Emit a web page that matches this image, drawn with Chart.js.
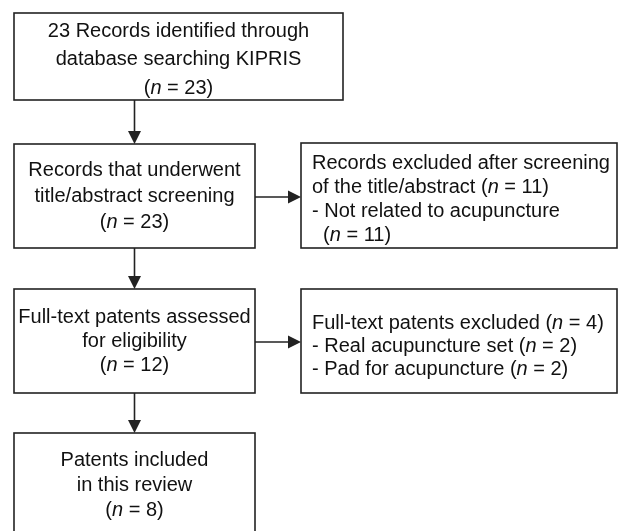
<!DOCTYPE html>
<html><head><meta charset="utf-8">
<script src="https://cdn.jsdelivr.net/npm/chart.js@4"></script>
<style>html,body{margin:0;padding:0;background:#fff}#wrap{width:619px;height:531px;position:relative}</style>
</head><body><div id="wrap"><canvas id="c"></canvas></div>
<script>
// ---- data ----
const stageCounts = [23, 23, 12, 8];          // main flow
const excludedCounts = [11, 4];               // exclusion boxes
const reasons1 = ["Not related to acupuncture"];
const reasonCounts1 = [11];
const reasons2 = ["Real acupuncture set", "Pad for acupuncture"];
const reasonCounts2 = [2, 2];
const stageLabels = [
  ["23 Records identified through", "database searching KIPRIS"],
  ["Records that underwent", "title/abstract screening"],
  ["Full-text patents assessed", "for eligibility"],
  ["Patents included", "in this review"]
];
const excludedLabels = [
  ["Records excluded after screening", "of the title/abstract"],
  ["Full-text patents excluded"]
];

const nTxt = v => "(*n* = " + v + ")";

// text content per box (built from data)
const boxTexts = [
  [stageLabels[0][0], stageLabels[0][1], nTxt(stageCounts[0])],
  [stageLabels[1][0], stageLabels[1][1], nTxt(stageCounts[1])],
  [excludedLabels[0][0], excludedLabels[0][1] + " " + nTxt(excludedCounts[0]), "- " + reasons1[0], "  " + nTxt(reasonCounts1[0])],
  [stageLabels[2][0], stageLabels[2][1], nTxt(stageCounts[2])],
  [excludedLabels[1][0] + " " + nTxt(excludedCounts[1]), "- " + reasons2[0] + " " + nTxt(reasonCounts2[0]), "- " + reasons2[1] + " " + nTxt(reasonCounts2[1])],
  [stageLabels[3][0], stageLabels[3][1], nTxt(stageCounts[3])]
];

// ---- layout (chart units, 0..619 x 0..531) ----
const layout = [
  {x0:14, x1:343, y0:13, y1:100, align:'center', tx:178.5, lh:28.5, cy:59.5},
  {x0:14, x1:255, y0:144, y1:248, align:'center', tx:134.5, lh:26, cy:196},
  {x0:301, x1:617, y0:143, y1:248, align:'left', tx:312, lh:24, cy:199},
  {x0:14, x1:255, y0:289, y1:393, align:'center', tx:134.5, lh:24, cy:341},
  {x0:301, x1:617, y0:289, y1:393, align:'left', tx:312, lh:23, cy:346},
  {x0:14, x1:255, y0:433, y1:540, align:'center', tx:134.5, lh:25, cy:485}
];
const arrows = [
  {x0:134.5, y0:100, x1:134.5, y1:144},
  {x0:134.5, y0:248, x1:134.5, y1:289},
  {x0:134.5, y0:393, x1:134.5, y1:433},
  {x0:255, y0:197, x1:301, y1:197},
  {x0:255, y0:342, x1:301, y1:342}
];

const FONT = '"Liberation Sans", Arial, Helvetica, sans-serif';
const FS = 20;
const INK = '#222';

function segs(s){ return s.split('*').map((t,i)=>({t, it: i%2===1})); }
function drawRich(ctx, s, x, y, align){
  const parts = segs(s);
  let w = 0;
  parts.forEach(p=>{ ctx.font = (p.it?'italic ':'') + FS + 'px ' + FONT; p.w = ctx.measureText(p.t).width; w += p.w; });
  let cx = align==='center' ? x - w/2 : x;
  ctx.textAlign = 'left'; ctx.textBaseline = 'middle';
  parts.forEach(p=>{ ctx.font = (p.it?'italic ':'') + FS + 'px ' + FONT; ctx.fillText(p.t, cx, y); cx += p.w; });
}

const flowPlugin = {
  id: 'flow',
  afterDatasetsDraw(chart){
    const ctx = chart.ctx, xs = chart.scales.x, ys = chart.scales.y;
    const X = v => xs.getPixelForValue(v), Y = v => ys.getPixelForValue(v);
    ctx.save();
    ctx.strokeStyle = INK; ctx.fillStyle = INK; ctx.lineWidth = 1.6;
    layout.forEach((b,i)=>{
      ctx.strokeRect(X(b.x0), Y(b.y0), X(b.x1)-X(b.x0), Y(b.y1)-Y(b.y0));
      const lines = boxTexts[i];
      const n = lines.length;
      lines.forEach((ln,k)=>{
        const yy = b.cy + (k - (n-1)/2) * b.lh;
        ctx.fillStyle = '#111';
        drawRich(ctx, ln, X(b.tx), Y(yy), b.align);
      });
    });
    ctx.fillStyle = INK;
    arrows.forEach(a=>{
      const px0=X(a.x0), py0=Y(a.y0), px1=X(a.x1), py1=Y(a.y1);
      const ang = Math.atan2(py1-py0, px1-px0);
      const L = 13, H = 6.5;
      const bx = px1 - L*Math.cos(ang), by = py1 - L*Math.sin(ang);
      ctx.beginPath(); ctx.moveTo(px0,py0); ctx.lineTo(bx,by); ctx.stroke();
      ctx.beginPath();
      ctx.moveTo(px1,py1);
      ctx.lineTo(bx + H*Math.sin(ang), by - H*Math.cos(ang));
      ctx.lineTo(bx - H*Math.sin(ang), by + H*Math.cos(ang));
      ctx.closePath(); ctx.fill();
    });
    ctx.restore();
  }
};

new Chart(document.getElementById('c'), {
  type: 'scatter',
  data: { datasets: [{ data: layout.map(b=>({x:(b.x0+b.x1)/2, y:(b.y0+b.y1)/2})), pointRadius: 0, pointHoverRadius: 0 }] },
  options: {
    responsive: true, maintainAspectRatio: false, animation: false,
    layout: { padding: 0 },
    plugins: { legend: {display:false}, tooltip: {enabled:false} },
    scales: {
      x: { type:'linear', min:0, max:619, display:false },
      y: { type:'linear', min:0, max:531, reverse:true, display:false }
    }
  },
  plugins: [flowPlugin]
});
</script>
</body></html>
